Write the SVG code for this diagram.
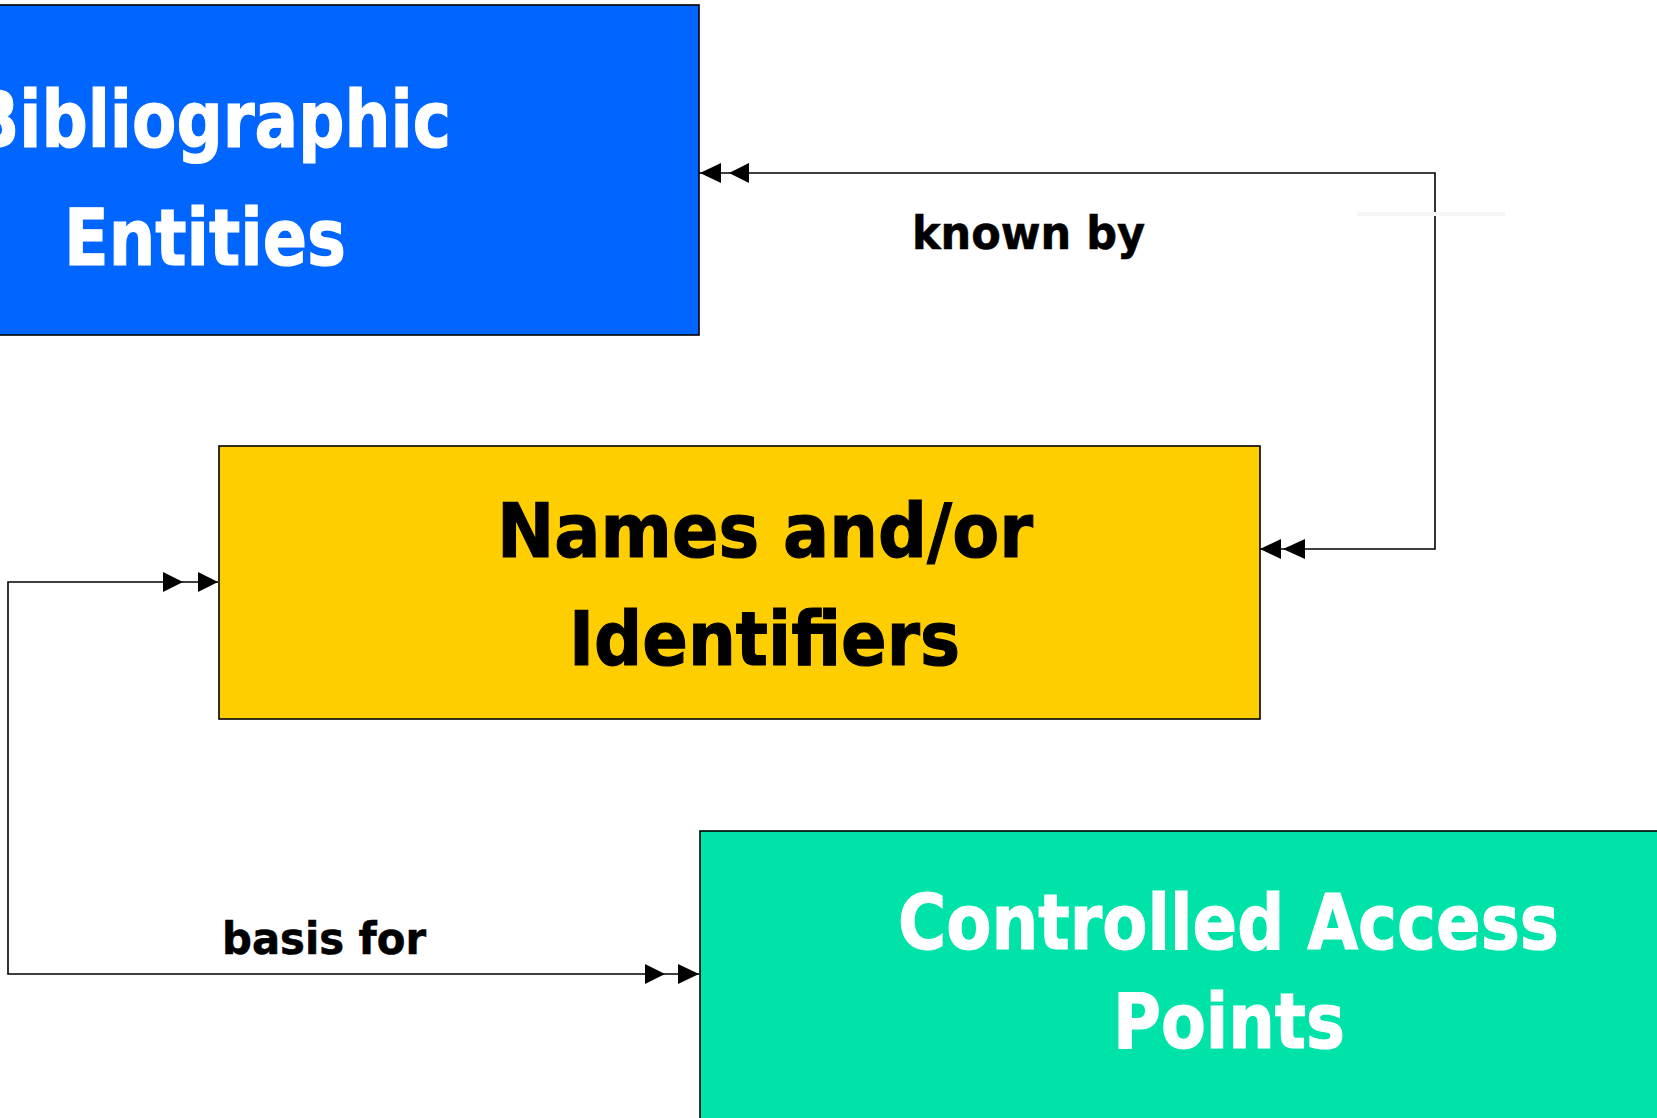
<svg xmlns="http://www.w3.org/2000/svg" width="1657" height="1118" viewBox="0 0 1657 1118">
<style>
.box{stroke:#000;stroke-width:1.6}
.t{font-family:"DejaVu Sans","Liberation Sans",sans-serif;font-weight:bold}
.wt{fill:#fff;stroke:#fff;stroke-width:1.2}
.bt{fill:#000;stroke:#000;stroke-width:1.2}
.lb{fill:#000;stroke:#000;stroke-width:0.6}
.ln{fill:none;stroke:#000;stroke-width:1.6}
.ah{fill:#000}
</style>
<rect width="1657" height="1118" fill="#fff"/>
<g id="bibliographic-entities">
<rect class="box" x="-5" y="5" width="704" height="330" fill="#0066FF"/>
<text class="t wt" x="-30" y="147" font-size="78" textLength="481" lengthAdjust="spacingAndGlyphs">Bibliographic</text>
<text class="t wt" x="64" y="265" font-size="78" textLength="282" lengthAdjust="spacingAndGlyphs">Entities</text>
</g>
<g id="names-identifiers">
<rect class="box" x="219" y="446" width="1041" height="273" fill="#FFCE00"/>
<text class="t bt" x="497" y="557" font-size="75" textLength="536" lengthAdjust="spacingAndGlyphs">Names and/or</text>
<text class="t bt" x="569" y="665" font-size="75" textLength="391" lengthAdjust="spacingAndGlyphs">Identifiers</text>
</g>
<g id="controlled-access-points">
<rect class="box" x="700" y="831" width="970" height="300" fill="#00E3A8"/>
<text class="t wt" x="898" y="949" font-size="77" textLength="661" lengthAdjust="spacingAndGlyphs">Controlled Access</text>
<text class="t wt" x="1113" y="1048" font-size="77" textLength="232" lengthAdjust="spacingAndGlyphs">Points</text>
</g>
<g id="connectors">
<path class="ln" d="M1260,549 H1435 V173 H699"/>
<polygon class="ah" points="700,173 721,163 721,183"/>
<polygon class="ah" points="729,173 749,163 749,183"/>
<polygon class="ah" points="1260,549 1281,539 1281,559"/>
<polygon class="ah" points="1283,549 1305,539 1305,559"/>
<path class="ln" d="M218,582 H8 V974 H699"/>
<polygon class="ah" points="218,582 198,572 198,592"/>
<polygon class="ah" points="183,582 163,572 163,592"/>
<polygon class="ah" points="699,974 678,964 678,984"/>
<polygon class="ah" points="665,974 645,964 645,984"/>
<line x1="1357" y1="214" x2="1505" y2="214" stroke="#f6f6f6" stroke-width="4"/>
<text class="t lb" x="912" y="249" font-size="46" textLength="233" lengthAdjust="spacingAndGlyphs">known by</text>
<text class="t lb" x="222" y="954" font-size="45" textLength="204" lengthAdjust="spacingAndGlyphs">basis for</text>
</g>
</svg>
